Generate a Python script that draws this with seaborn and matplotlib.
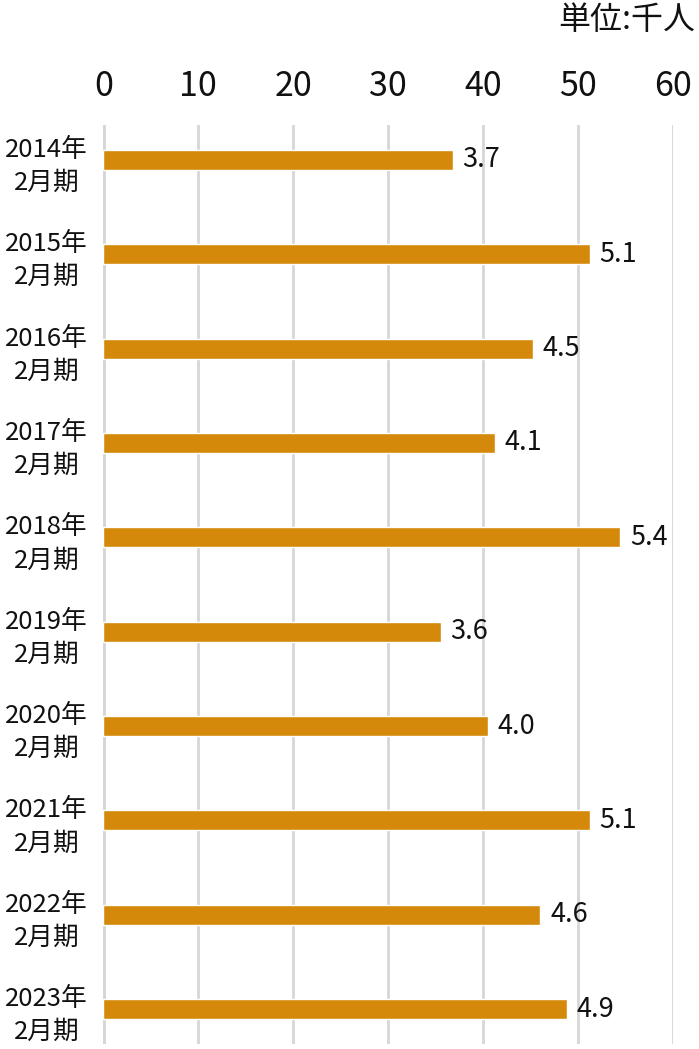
import matplotlib
matplotlib.use("Agg")
import matplotlib.pyplot as plt
import seaborn as sns
import pandas as pd

# Data
periods = ["2014年\n2月期", "2015年\n2月期", "2016年\n2月期", "2017年\n2月期", "2018年\n2月期",
           "2019年\n2月期", "2020年\n2月期", "2021年\n2月期", "2022年\n2月期", "2023年\n2月期"]
bar_values = [36.8, 51.2, 45.2, 41.2, 54.4, 35.5, 40.5, 51.2, 46.0, 48.8]
value_labels = ["3.7", "5.1", "4.5", "4.1", "5.4", "3.6", "4.0", "5.1", "4.6", "4.9"]
x_ticks = [0, 10, 20, 30, 40, 50, 60]
unit_label = "単位:千人"

sns.set_theme(style="white")
plt.rcParams['font.family'] = ['Noto Sans CJK JP', 'DejaVu Sans']

df = pd.DataFrame({"period": periods, "value": bar_values})

fig = plt.figure(figsize=(6.99, 10.49), dpi=100)
ax = fig.add_axes([103.3 / 699, 1 - 1044 / 1049, 570 / 699, (1044 - 125) / 1049])

sns.barplot(data=df, x="value", y="period", orient="h", color="#D4890A",
            saturation=1, width=0.21, ax=ax, zorder=3)

ax.set_xlim(0, 60)
ax.set_ylim(9.37, -0.37)
ax.set_xticks(x_ticks)
ax.set_xticklabels([str(t) for t in x_ticks])
ax.xaxis.tick_top()
ax.tick_params(axis="x", length=0, pad=15, labelsize=24.5, labelcolor="#111111")
ax.tick_params(axis="y", length=0, pad=11, labelsize=18.5, labelcolor="#111111")
for lbl in ax.get_yticklabels():
    lbl.set_multialignment("center")
    lbl.set_linespacing(1.35)

for t in x_ticks:
    ax.axvline(t, color="#d6d6d6", lw=3.5 if t == 0 else 2, zorder=1)

for sp in ax.spines.values():
    sp.set_visible(False)
ax.set_xlabel("")
ax.set_ylabel("")

ax.bar_label(ax.containers[0], labels=value_labels, padding=7, fontsize=19.5, color="#111111")

fig.text(0.994, 0.981, unit_label, ha="right", va="center", fontsize=23, color="#111111")

fig.savefig("out.png", dpi=100)
